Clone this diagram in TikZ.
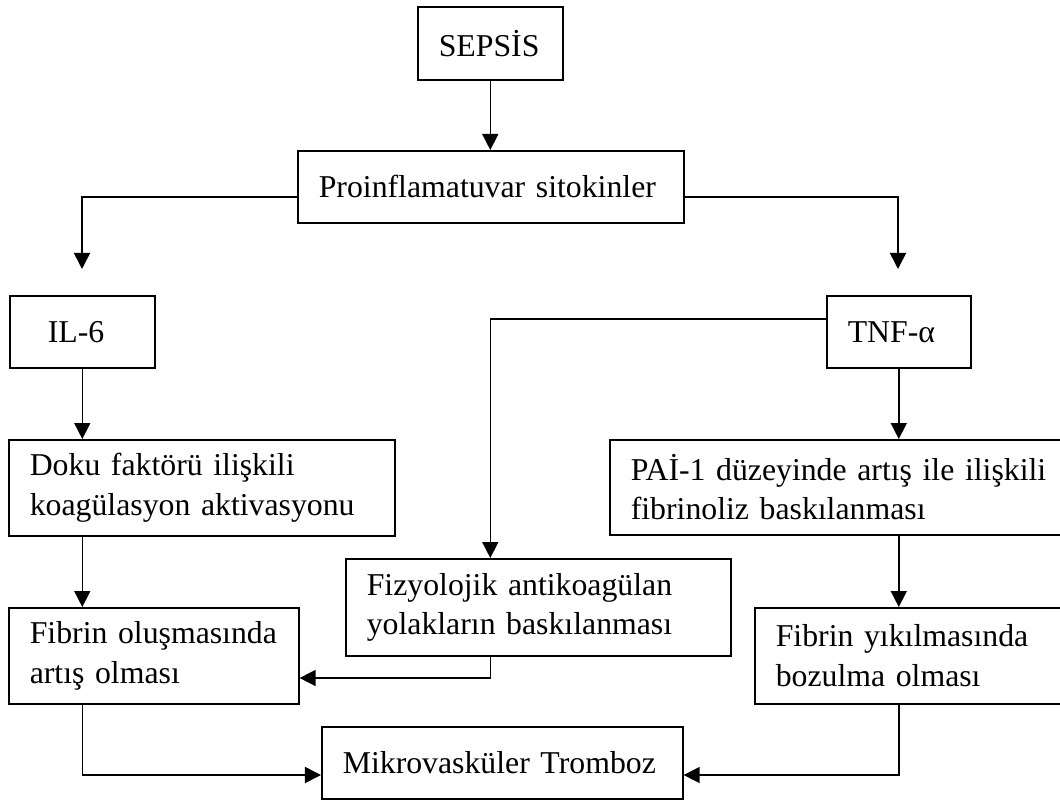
\documentclass[tikz,border=0pt]{standalone}
\usepackage{fontspec}
\setmainfont{Liberation Serif}
\usepackage{tikz}
\usetikzlibrary{arrows.meta,positioning}

\tikzset{
  flow box/.style={draw, rectangle, anchor=north west, align=left,
    inner xsep=0.525cm, inner ysep=0pt, line width=1.1pt,
    font=\fontsize{22.6}{28}\selectfont},
}

\begin{document}
\begin{tikzpicture}[x=0.025cm,y=-0.025cm,>={Triangle[length=0.4cm,width=0.4cm]},line width=1.1pt]
    \useasboundingbox (0,0) rectangle (1060,802);

              % Define boxes by coordinates
              \node[flow box, text width=2.575cm, minimum height=1.825cm] (sepsis) at (417,6) {SEPS\.IS};
              \node[flow box, text width=8.6cm, minimum height=1.8cm] (proinfl) at (297,150) {Proinflamatuvar sitokinler};
              \node[flow box, inner xsep=0.95cm, text width=1.725cm, minimum height=1.8cm] (il6) at (9,295) {IL-6};
              \node[flow box, text width=2.55cm, minimum height=1.8cm] (tnf) at (826,295) {TNF-α};
              \node[flow box, text width=8.6cm, minimum height=2.4cm] (doku) at (8,439) {Doku faktörü ilişkili\\koagülasyon aktivasyonu};
              \node[flow box, text width=11.2cm, minimum height=2.375cm] (pai) at (609,439) {PA\.I-1 düzeyinde artış ile ilişkili\\fibrinoliz baskılanması};
              \node[flow box, text width=8.575cm, minimum height=2.425cm] (fizyo) at (345,558) {Fizyolojik antikoagülan\\yolakların baskılanması};
              \node[flow box, text width=6.2cm, minimum height=2.4cm] (fibolus) at (8,607) {Fibrin oluşmasında\\artış olması};
              \node[flow box, text width=7cm, minimum height=2.4cm] (fibyik) at (754,607) {Fibrin yıkılmasında\\bozulma olması};
              \node[flow box, text width=7.975cm, minimum height=1.8cm] (mikro) at (321,726) {Mikrovasküler Tromboz};

              % Free arrow ends
              \coordinate (il6 tip) at (82,269);
              \coordinate (tnf tip) at (898,269);

              % Draw straight arrows
              \path
                (sepsis.south) edge[->] (sepsis.south |- proinfl.north)
                (il6.south) edge[->] (il6.south |- doku.north)
                (tnf.south) edge[->] (tnf.south |- pai.north)
                (doku.south -| il6.south) edge[->] (fibolus.north -| il6.south)
                (pai.south -| tnf.south) edge[->] (fibyik.north -| tnf.south);

              % Draw bent arrows
              \draw[->] (proinfl.west |- 0,197) -| (il6 tip);
              \draw[->] (proinfl.east |- 0,197) -| (tnf tip);
              \draw[->] (tnf.west |- 0,319) -| (fizyo.north -| sepsis.south);
              \draw[->] (fizyo.south -| sepsis.south) |- (fibolus.east |- 0,678);
              \draw[->] (fibolus.south -| il6.south) |- (mikro.west |- 0,775);
              \draw[->] (fibyik.south -| tnf.south) |- (mikro.east |- 0,775);
            \end{tikzpicture}
\end{document}
